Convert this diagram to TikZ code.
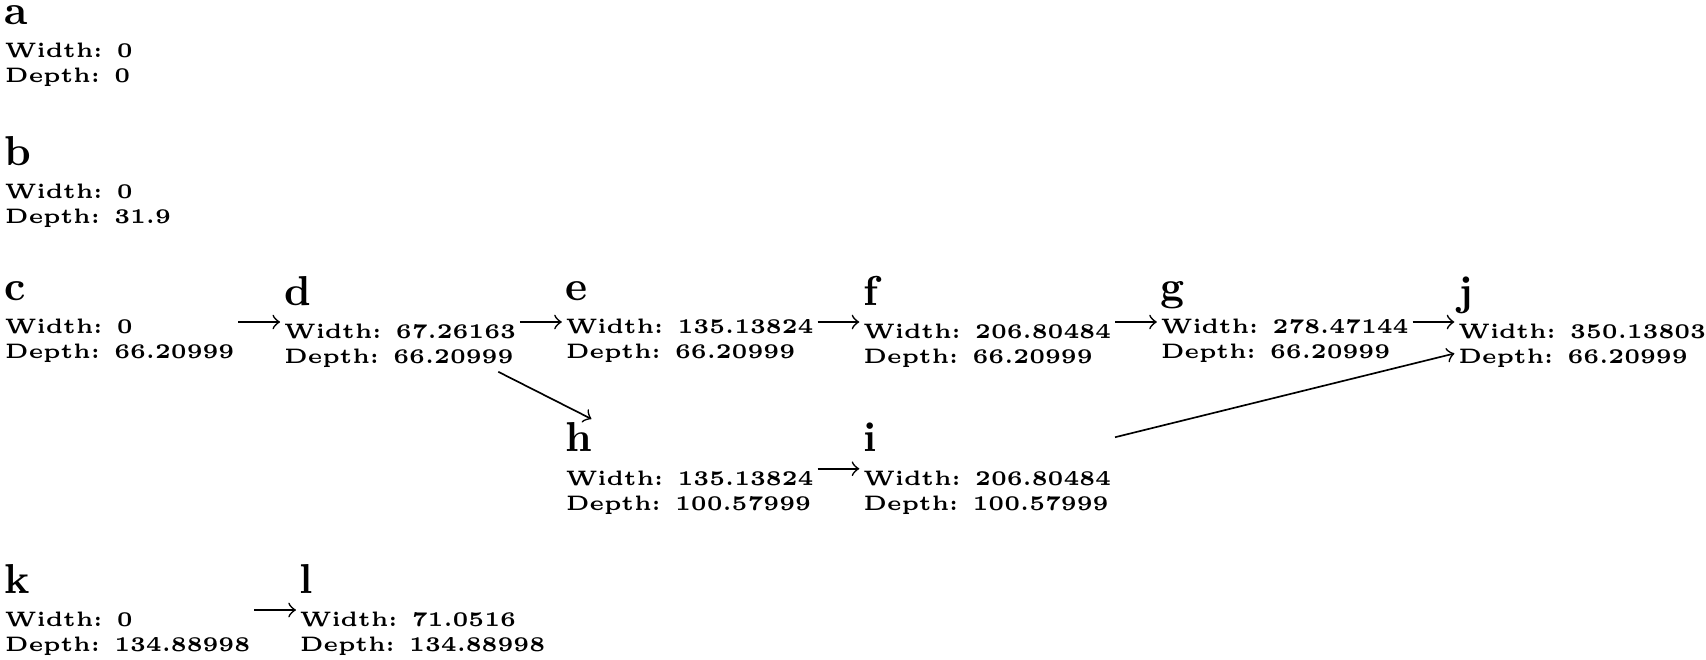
\documentclass[tikz,border=0pt]{standalone}
\usetikzlibrary{positioning}

\tikzset{
  vertex/.style={align=left, inner sep=0.75pt, font=\tiny\bfseries},
  edge/.style={->, line width=0.4pt},
}
% vertex name on its own line above the two values
\newcommand{\vertexname}[1]{{\normalsize #1}\\[2pt]}

\begin{document}
\begin{tikzpicture}[x=0.2392pt, y=-0.2392pt, node distance=10pt]
                        \useasboundingbox (0,0) rectangle (1706,660);

                        % Drawing node a
                        \node [vertex, anchor=west] (a) at (1.000000,46.000000) {\vertexname{a}Width: 0\\Depth: 0};%

                        % Drawing node b
                        \node [vertex, anchor=west] (b) at (1.000000,182.000000) {\vertexname{b}Width: 0\\Depth: 31.9};%

                        % Drawing node c
                        \node [vertex, anchor=west] (c) at (1.000000,322.000000) {\vertexname{c}Width: 0\\Depth: 66.20999};%

                        % Drawing nodes d, e, f, g, j
                        \node [vertex, right=of c] (d) {\vertexname{d}Width: 67.26163\\Depth: 66.20999};%
                        \node [vertex, right=of d] (e) {\vertexname{e}Width: 135.13824\\Depth: 66.20999};%
                        \node [vertex, right=of e] (f) {\vertexname{f}Width: 206.80484\\Depth: 66.20999};%
                        \node [vertex, right=of f] (g) {\vertexname{g}Width: 278.47144\\Depth: 66.20999};%
                        \node [vertex, right=of g] (j) {\vertexname{j}Width: 350.13803\\Depth: 66.20999};%

                        % Drawing nodes h, i
                        \node [vertex, below=12.5pt of e] (h) {\vertexname{h}Width: 135.13824\\Depth: 100.57999};%
                        \node [vertex, right=of h] (i) {\vertexname{i}Width: 206.80484\\Depth: 100.57999};%

                        % Drawing nodes k, l
                        \node [vertex, anchor=west] (k) at (1.000000,610.000000) {\vertexname{k}Width: 0\\Depth: 134.88998};%
                        \node [vertex, right=of k] (l) {\vertexname{l}Width: 71.0516\\Depth: 134.88998};%

                        % Drawing edges
                        \draw [edge] (c) -- (d);%
                        \draw [edge] (d) -- (e);%
                        \draw [edge] (e) -- (f);%
                        \draw [edge] (f) -- (g);%
                        \draw [edge] (g) -- (j);%
                        \draw [edge] (d) -- (h);%
                        \draw [edge] (h) -- (i);%
                        \draw [edge] (i) -- (j);%
                        \draw [edge] (k) -- (l);%
\end{tikzpicture}
\end{document}
